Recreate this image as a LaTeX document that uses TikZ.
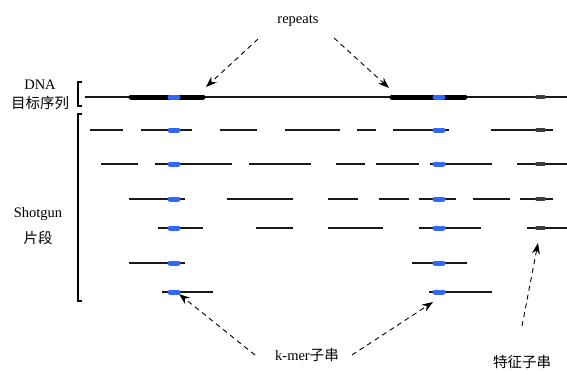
\documentclass[tikz,border=0pt]{standalone}
\usepackage{fontspec}
\setmainfont{Liberation Serif}
\newfontfamily\cjk{Noto Sans CJK SC}
\usetikzlibrary{arrows.meta}
\definecolor{kblue}{RGB}{50,105,250}
\definecolor{featgray}{RGB}{60,60,60}
\definecolor{segcol}{RGB}{25,25,25}
\tikzset{
  seg/.style={draw=segcol,line width=1.5pt},
  rep/.style={draw=black,line width=5pt,line cap=round},
  kmer/.style={draw=kblue,line width=5pt,line cap=round},
  feat/.style={draw=featgray,line width=4pt,line cap=round},
  brk/.style={draw=black,line width=1.2pt},
  lbl/.style={inner sep=0pt,font=\fontsize{14.5}{17}\selectfont},
  darr/.style={draw=black,line width=0.9pt,dash pattern=on 5pt off 4pt,-{Stealth[length=11pt,width=8pt]}}
}
\begin{document}
\begin{tikzpicture}[x=1pt,y=-1pt]
\useasboundingbox (0,0) rectangle (567,370);
% labels
\node[lbl] (rep) at (298,21) {repeats};
\node[lbl] (dna) at (40,85) {DNA};
\node[lbl] (tgt) at (40,103) {\cjk 目标序列};
\node[lbl] (shot) at (38,214) {Shotgun};
\node[lbl] (frag) at (38,238) {\cjk 片段};
\node[lbl] (km) at (307,355) {k-mer\cjk 子串};
\node[lbl] (ft) at (522,362) {\cjk 特征子串};
% brackets
\draw[brk] (82,82) -- (78,82) -- (78,106) -- (82,106);
\draw[brk] (82,114) -- (78,114) -- (78,301) -- (82,301);
% DNA line
\draw[seg] (85,97) -- (567,97);
\draw[rep] (131,97) -- (203,97);
\draw[rep] (392,97) -- (465,97);
\draw[kmer] (170,97) -- (178,97);
\draw[kmer] (435,97) -- (443,97);
\draw[feat] (537,97) -- (544,97);
% shotgun fragments
\foreach \y/\list in {130/{90/123,141/192,220/257,285/340,357/376,393/449,491/553},
                      164/{101/138,155/232,249/311,336/365,376/419,430/492,517/567},
                      199/{129/185,227/293,328/358,379/409,419/456,473/510,520/553},
                      228/{158/203,256/293,328/383,419/481,527/567},
                      263/{129/185,412/467},
                      292/{162/213,429/492}}{
  \foreach \a/\b in \list { \draw[seg] (\a,\y) -- (\b,\y); }
  \draw[kmer] (170,\y) -- (178,\y);
  \draw[kmer] (435,\y) -- (443,\y);
}
\foreach \y in {130,164,199,228}{ \draw[feat] (537,\y) -- (544,\y); }
% arrow endpoints
\coordinate (r1s) at (258,39);
\coordinate (r1e) at (206,87);
\coordinate (r2s) at (334,38);
\coordinate (r2e) at (389,88);
\coordinate (k1s) at (255,355);
\coordinate (k1e) at (179,294);
\coordinate (k2s) at (352,355);
\coordinate (k2e) at (433,302);
\coordinate (fs) at (522,326);
\coordinate (fe) at (538,243);
\draw[darr] (r1s) -- (r1e);
\draw[darr] (r2s) -- (r2e);
\draw[darr] (k1s) -- (k1e);
\draw[darr] (k2s) -- (k2e);
\draw[darr] (fs) -- (fe);
\end{tikzpicture}
\end{document}
